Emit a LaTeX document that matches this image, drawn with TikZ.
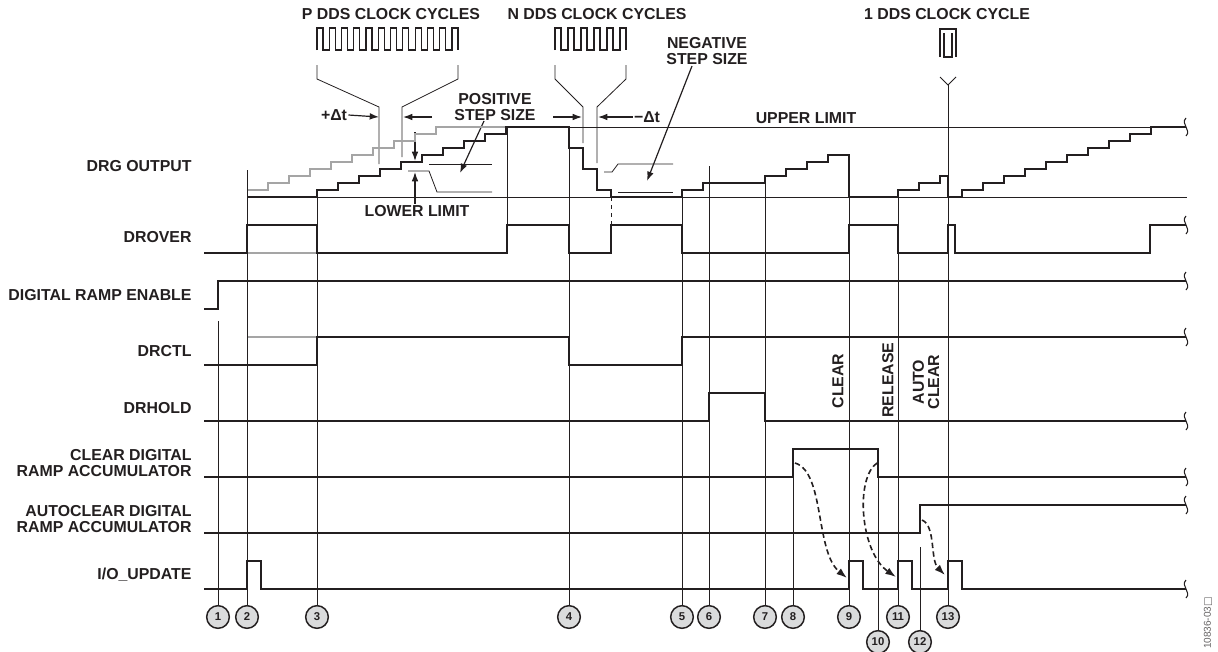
\documentclass[tikz,border=0pt]{standalone}
\usepackage{fontspec}
\setmainfont{Liberation Sans}
\newfontfamily\symfont{DejaVu Sans}
\usetikzlibrary{arrows.meta}

\definecolor{ink}{RGB}{35,31,32}
\definecolor{ghost}{RGB}{165,165,165}
\definecolor{bubble}{RGB}{218,219,220}

\tikzset{every picture/.style={line width=0.75pt}}
\tikzset{
  sig/.style={line width=1.5pt, draw=ink},
  ghostsig/.style={line width=1.5pt, draw=ghost},
  guide/.style={line width=0.6pt, draw=ink},
  dim/.style={line width=0.9pt, draw=ink, -{Latex[length=7pt,width=5pt]}},
  flow/.style={line width=1.2pt, draw=ink, dash pattern=on 4pt off 2.5pt, -{Latex[length=8pt,width=5.5pt]}},
  lbl/.style={anchor=east, inner sep=0.75pt, align=right, text=ink,
    font=\fontsize{11.9}{11.3}\selectfont\bfseries},
  note/.style={inner sep=0.75pt, align=center, text=ink,
    font=\fontsize{11.9}{11.3}\selectfont\bfseries},
  tick/.style={circle, draw=ink, line width=1.1pt, fill=bubble, minimum size=17pt,
    inner sep=0pt, text=ink, font=\fontsize{8.5}{9}\selectfont\bfseries}
}
\newcommand\sigbreak[1]{\draw[guide, line width=0.8pt] (1186,#1-9) .. controls (1180,#1-3) and (1192,#1+3) .. (1186,#1+9);}

\begin{document}
\begin{tikzpicture}[x=0.75pt,y=0.75pt,yscale=-1,xscale=1]
\useasboundingbox (0,0) rectangle (1218,651);

% Signal names
\node[lbl] (drg) at (193,166) {DRG OUTPUT};
\node[lbl] (drover) at (193,237) {DROVER};
\node[lbl] (enable) at (193,295) {DIGITAL RAMP ENABLE};
\node[lbl] (drctl) at (193,351) {DRCTL};
\node[lbl] (drhold) at (193,408) {DRHOLD};
\node[lbl] (clracc) at (193,463) {CLEAR DIGITAL\\RAMP ACCUMULATOR};
\node[lbl] (autoacc) at (193,519) {AUTOCLEAR DIGITAL\\RAMP ACCUMULATOR};
\node[lbl] (ioupd) at (193,575) {I/O\_UPDATE};

% Clock captions
\node[note] (pclk) at (391,14) {P DDS CLOCK CYCLES};
\node[note] (nclk) at (597,14) {N DDS CLOCK CYCLES};
\node[note] (oneclk) at (947,14) {1 DDS CLOCK CYCLE};

% Clock waves
\draw[guide, line width=0.9pt] (317,50) \foreach \k in {0,...,11}{ -- (317+12.27*\k,50) -- (317+12.27*\k,28) -- (323+12.27*\k,28) -- (323+12.27*\k,50) };
\draw[guide, line width=0.9pt] (555,50) \foreach \k in {0,...,5}{ -- (555+13*\k,50) -- (555+13*\k,28) -- (561+13*\k,28) -- (561+13*\k,50) };
\draw[guide, line width=0.9pt] (940,57) -- (940,29) -- (956,29) -- (956,57);
\draw[guide, line width=0.9pt] (944,33) -- (944,57) -- (952,57) -- (952,33);

% Brackets
\draw[guide] (317,65) -- (317,79) -- (379,107) -- (379,164);
\draw[guide] (458,65) -- (458,79) -- (402,107) -- (402,157);
\draw[guide] (555,65) -- (555,79) -- (583,107) -- (583,143);
\draw[guide] (626,65) -- (626,79) -- (597,107) -- (597,163);
\draw[guide] (940,77) -- (948,85) -- (956,77);

% Delta t
\node[note] (dtp) at (334,115) {+Δt};
\coordinate (dtpa) at (379,117);
\coordinate (dtpb) at (432,117);
\coordinate (dtpc) at (403,117);
\draw[dim] (dtp.east) -- (dtpa);
\draw[dim] (dtpb) -- (dtpc);
\node[note] (dtn) at (647,117) {−Δt};
\coordinate (dtna) at (553,117);
\coordinate (dtnb) at (582,117);
\coordinate (dtnc) at (598,117);
\draw[dim] (dtna) -- (dtnb);
\draw[dim] (dtn.west) -- (dtnc);

% Limits
\draw[guide] (247,197) -- (1187,197);
\draw[guide] (506,127) -- (1186,127);
\node[note] (uplim) at (806,118) {UPPER LIMIT};
\node[note] (lowlim) at (417,211) {LOWER LIMIT};

% Step size marks
\draw[guide] (429,164) -- (492,164);
\draw[guide] (408,171) -- (429,171) -- (437,192) -- (492,192);
\draw[guide] (604,172) -- (612,172) -- (618,164) -- (673,164);
\draw[guide] (618,192) -- (673,192);
\node[note] (posstep) at (495,107) {POSITIVE\\STEP SIZE};
\node[note] (negstep) at (707,51) {NEGATIVE\\STEP SIZE};
\coordinate (posend) at (460,173);
\coordinate (negend) at (647,181);
\draw[dim] (484,121) -- (posend);
\draw[dim] (692,66) -- (negend);
\coordinate (stepa) at (415,161);
\coordinate (stepb) at (415,172);
\draw[dim] (415,132) -- (stepa);
\draw[dim] (lowlim.north -| stepb) -- (stepb);

% DRG output
\draw[ghostsig] (247,190) \foreach \k in {1,...,9}{ -- (247+21*\k,197-7*\k) -- (247+21*\k,190-7*\k) } -- (506,127);
\draw[sig] (247,197) \foreach \k in {0,...,9}{ -- (317+21*\k,197-7*\k) -- (317+21*\k,190-7*\k) }
  -- (569,127) -- (569,148) -- (583,148) -- (583,169) -- (597,169) -- (597,190) -- (611,190) -- (611,197)
  -- (682,197) -- (682,190) -- (703,190) -- (703,183) -- (765,183) -- (765,176) -- (786,176) -- (786,169)
  -- (807,169) -- (807,162) -- (828,162) -- (828,155) -- (849,155) -- (849,197) -- (898,197) -- (898,190)
  -- (919,190) -- (919,183) -- (940,183) -- (940,176) -- (948,176) -- (948,197)
  \foreach \k in {0,...,9}{ -- (962+21*\k,197-7*\k) -- (962+21*\k,190-7*\k) } -- (1186,127);
\sigbreak{127}

% DROVER
\draw[ghostsig] (247,253) -- (317,253);
\draw[sig] (204,253) -- (247,253) -- (247,225) -- (317,225) -- (317,253) -- (507,253) -- (507,225) -- (569,225)
  -- (569,253) -- (611,253) -- (611,225) -- (682,225) -- (682,253) -- (849,253) -- (849,225) -- (898,225)
  -- (898,253) -- (948,253) -- (948,225) -- (955,225) -- (955,253) -- (1150,253) -- (1150,225) -- (1186,225);
\sigbreak{225}
\draw[guide] (507,127) -- (507,225);
\draw[guide, dashed] (611,197) -- (611,225);

% DIGITAL RAMP ENABLE
\draw[sig] (204,309) -- (218,309) -- (218,281) -- (1186,281);
\sigbreak{281}

% DRCTL
\draw[ghostsig] (247,337) -- (317,337);
\draw[sig] (204,365) -- (317,365) -- (317,337) -- (569,337) -- (569,365) -- (682,365) -- (682,337) -- (1186,337);
\sigbreak{337}

% DRHOLD
\draw[sig] (204,421) -- (709,421) -- (709,393) -- (765,393) -- (765,421) -- (1186,421);
\sigbreak{421}

% CLEAR DIGITAL RAMP ACCUMULATOR
\draw[sig] (204,477) -- (793,477) -- (793,449) -- (878,449) -- (878,477) -- (1186,477);
\sigbreak{477}

% AUTOCLEAR DIGITAL RAMP ACCUMULATOR
\draw[sig] (204,533) -- (920,533) -- (920,505) -- (1186,505);
\sigbreak{505}

% I/O_UPDATE
\draw[sig] (204,589) -- (247,589) -- (247,561) -- (261,561) -- (261,589) -- (849,589) -- (849,561) -- (863,561)
  -- (863,589) -- (898,589) -- (898,561) -- (912,561) -- (912,589) -- (948,589) -- (948,561) -- (962,561)
  -- (962,589) -- (1186,589);
\sigbreak{589}

% Event markers
\foreach \n/\x/\top/\y in {1/218/321/617, 2/247/170/617, 3/317/190/617, 4/569/127/617, 5/682/190/617,
  6/709/166/617, 7/765/177/617, 8/793/449/617, 9/849/155/617, 10/878/449/642, 11/898/190/617,
  12/920/547/642, 13/948/85/617}{
  \coordinate (g\n) at (\x,\top);
  \node[tick] (t\n) at (\x,\y) {\n};
  \draw[guide] (g\n) -- (t\n);
}

% Rotated labels
\node[note, rotate=90] (clrtag) at (838,381) {CLEAR};
\node[note, rotate=90] (reltag) at (888,380) {RELEASE};
\node[note, rotate=90] (autotag) at (926,382) {AUTO\\CLEAR};

% Causal arrows
\coordinate (ca) at (795,463);
\coordinate (cb) at (847,578);
\coordinate (cc) at (877,463);
\coordinate (cd) at (896,577);
\coordinate (ce) at (922,520);
\coordinate (cf) at (945,575);
\draw[flow] (ca) .. controls (825,472) and (815,552) .. (cb);
\draw[flow] (cc) .. controls (855,478) and (860,552) .. (cd);
\draw[flow] (ce) .. controls (936,526) and (930,560) .. (cf);

% Figure number
\node[rotate=90, inner sep=0pt, text=ink!70, font=\fontsize{7.5}{8}\selectfont] (figid) at (1208,623) {10836-03{\symfont □}};
\end{tikzpicture}
\end{document}
